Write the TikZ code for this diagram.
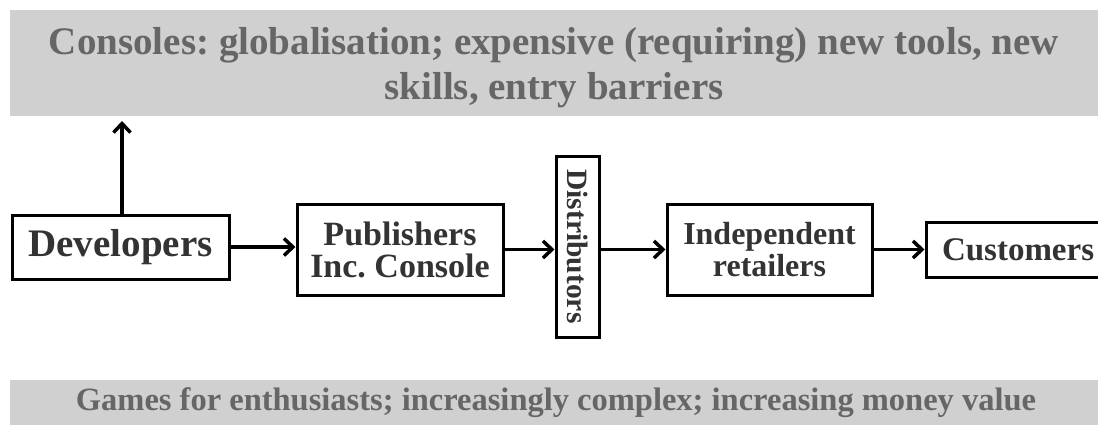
\documentclass[tikz,border=0pt]{standalone}
\usepackage{fontspec}
\setmainfont{Liberation Serif}
\usetikzlibrary{arrows.meta}
\definecolor{bannerfill}{HTML}{D0D0D0}
\definecolor{bannertext}{HTML}{666666}
\definecolor{boxtext}{HTML}{333333}
\frenchspacing
\tikzset{
  banner/.style={fill=bannerfill, draw=none, text=bannertext, align=center, inner sep=0pt},
  stage/.style={draw=black, line width=3pt, fill=white, text=boxtext, align=center, inner sep=0pt},
  flow/.style={line width=3.5pt, -{Straight Barb[length=9pt,width=17pt,line width=3.5pt]}}
}
\begin{document}
\begin{tikzpicture}[x=1pt,y=-1pt]
\useasboundingbox (0,0) rectangle (1098,424);
\begin{scope}
\clip (0,0) rectangle (1098,424);
% grey banners above and below the chain
\node[banner, minimum width=1100pt, minimum height=106pt] (top) at (560,63) {};
\node[banner, font=\bfseries\fontsize{39}{45}\selectfont] (toptext) at (554,68)
  {Consoles: globalisation; expensive (requiring) new tools, new\\skills, entry barriers};
\node[banner, minimum width=1100pt, minimum height=50pt] (bottom) at (560,405) {};
\node[banner, anchor=base, font=\bfseries\fontsize{32.5}{36}\selectfont] (bottomtext) at (556,410)
  {Games for enthusiasts; increasingly complex; increasing money value};
% the supply chain
\node[stage, minimum width=217pt, minimum height=64pt, font=\bfseries\fontsize{39}{44}\selectfont] (dev) at (120.5,247)
  {Developers};
\node[stage, minimum width=206pt, minimum height=91pt, font=\bfseries\fontsize{34}{32}\selectfont] (pub) at (400,249.5)
  {Publishers\\Inc. Console};
\node[stage, minimum width=43pt, minimum height=181pt] (dist) at (577.5,246.5) {};
\node[text=boxtext, font=\bfseries\fontsize{29.5}{32}\selectfont, rotate=-90, inner sep=0pt] (disttext) at (dist.center)
  {Distributors};
\node[stage, minimum width=205pt, minimum height=91pt, font=\bfseries\fontsize{32}{32}\selectfont] (ind) at (769.5,249.5)
  {Independent\\retailers};
\node[stage, inner xsep=16pt, text width=158pt, minimum height=55pt, align=left, font=\bfseries\fontsize{33}{38}\selectfont] (cust) at (1021,249.5)
  {Customers};
% connectors
\coordinate (upend) at (122,121);
\draw[flow] (dev.north -| upend) -- (upend);
\draw[flow] (dev.east) -- (dev.east -| pub.west);
\draw[flow] ([xshift=-3pt]pub.east) -- (pub.east -| dist.west);
\draw[flow] ([xshift=-3pt]dist.east |- ind.west) -- (ind.west);
\draw[flow] (ind.east) -- (ind.east -| cust.west);
\end{scope}
\end{tikzpicture}
\end{document}
